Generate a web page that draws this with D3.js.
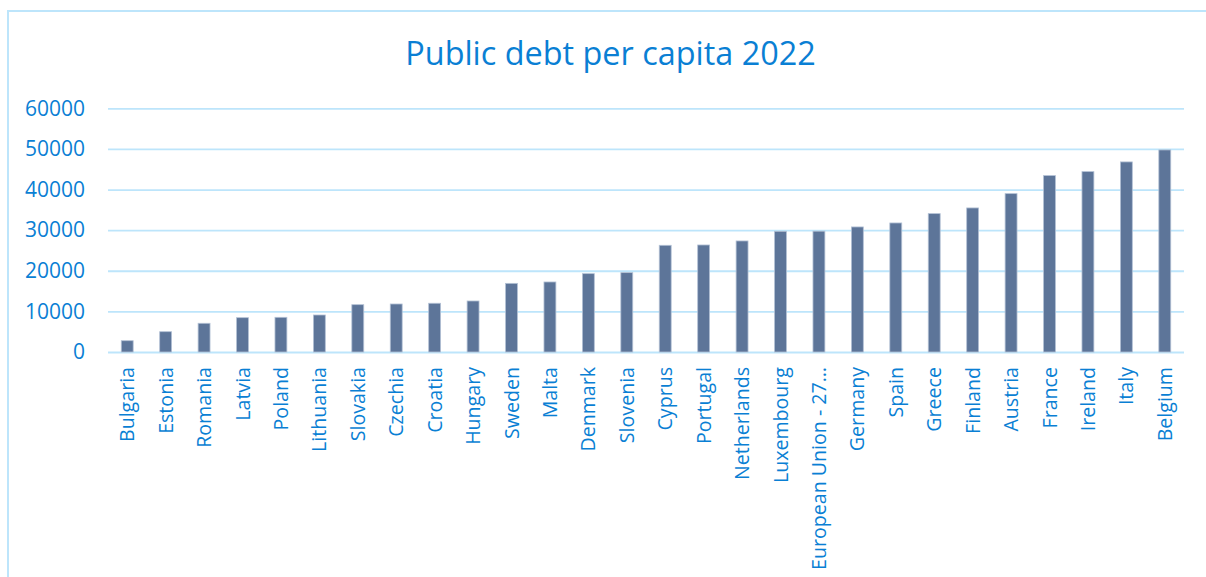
<!DOCTYPE html>
<html>
<head>
<meta charset="utf-8">
<script src="https://cdn.jsdelivr.net/npm/d3@7/dist/d3.min.js"></script>
<style>
  html, body { margin: 0; padding: 0; background: #ffffff; }
  svg { display: block; }
</style>
</head>
<body>
<script>
// Public debt per capita, 2022 (EUR), sorted ascending
const countries = [
  "Bulgaria", "Estonia", "Romania", "Latvia", "Poland", "Lithuania", "Slovakia",
  "Czechia", "Croatia", "Hungary", "Sweden", "Malta", "Denmark", "Slovenia",
  "Cyprus", "Portugal", "Netherlands", "Luxembourg", "European Union - 27\u2026",
  "Germany", "Spain", "Greece", "Finland", "Austria", "France", "Ireland",
  "Italy", "Belgium"
];
const debtPerCapita = [
  2780, 5000, 7070, 8450, 8540, 9110, 11650,
  11820, 12000, 12560, 16900, 17240, 19290, 19540,
  26270, 26350, 27340, 29720, 29750,
  30790, 31770, 34070, 35470, 38990, 43430, 44410,
  46800, 49750
];
const yTicks = [0, 10000, 20000, 30000, 40000, 50000, 60000];
const chartTitle = "Public debt per capita 2022";

const W = 1206, H = 577;
const textColor = "#0a7fd4";
const gridColor = "#bde5fb";
const font = "'Open Sans', 'Noto Sans', sans-serif";

const svg = d3.select("body").append("svg")
  .attr("width", W).attr("height", H);

// outer chart frame
svg.append("rect")
  .attr("x", 8).attr("y", 11)
  .attr("width", W + 20).attr("height", H + 20)
  .attr("fill", "#ffffff")
  .attr("stroke", gridColor).attr("stroke-width", 2);

const plot = { left: 108, right: 1184, top: 108.3, bottom: 352 };

const x = d3.scaleBand()
  .domain(countries)
  .range([plot.left, plot.right])
  .paddingInner(0.69).paddingOuter(0.345);

const y = d3.scaleLinear()
  .domain([0, 60000])
  .range([plot.bottom, plot.top]);

// title
svg.append("text")
  .attr("x", 610.5).attr("y", 65)
  .attr("text-anchor", "middle")
  .attr("font-family", font).attr("font-size", 32.4)
  .attr("fill", textColor)
  .text(chartTitle);

// horizontal gridlines + value axis labels
const yAxis = d3.axisLeft(y)
  .tickValues(yTicks)
  .tickSize(-(plot.right - plot.left))
  .tickPadding(23)
  .tickFormat(d3.format("d"));

const gy = svg.append("g")
  .attr("transform", `translate(${plot.left},0)`)
  .call(yAxis);
gy.select(".domain").remove();
gy.selectAll(".tick line")
  .attr("stroke", gridColor).attr("stroke-width", 1.8);
gy.selectAll(".tick text")
  .attr("font-family", font).attr("font-size", 21)
  .attr("fill", textColor);

// bars
svg.append("g").selectAll("rect")
  .data(countries.map((c, i) => ({ c, v: debtPerCapita[i] })))
  .join("rect")
  .attr("x", d => x(d.c))
  .attr("y", d => y(d.v))
  .attr("width", x.bandwidth())
  .attr("height", d => y(0) - y(d.v))
  .attr("fill", "#5d7599")
  .attr("stroke", "#b3c1d5")
  .attr("stroke-width", 0.8);

// category labels, rotated
const xAxis = d3.axisBottom(x).tickSize(0).tickPadding(0);
const gx = svg.append("g")
  .attr("transform", `translate(0,${plot.bottom})`)
  .call(xAxis);
gx.select(".domain").remove();
gx.selectAll(".tick text")
  .attr("font-family", font).attr("font-size", 19.6)
  .attr("fill", textColor)
  .attr("text-anchor", "end")
  .attr("transform", "translate(0,15) rotate(-90)")
  .attr("x", 0).attr("y", 0)
  .attr("dy", "0.36em");
</script>
</body>
</html>
